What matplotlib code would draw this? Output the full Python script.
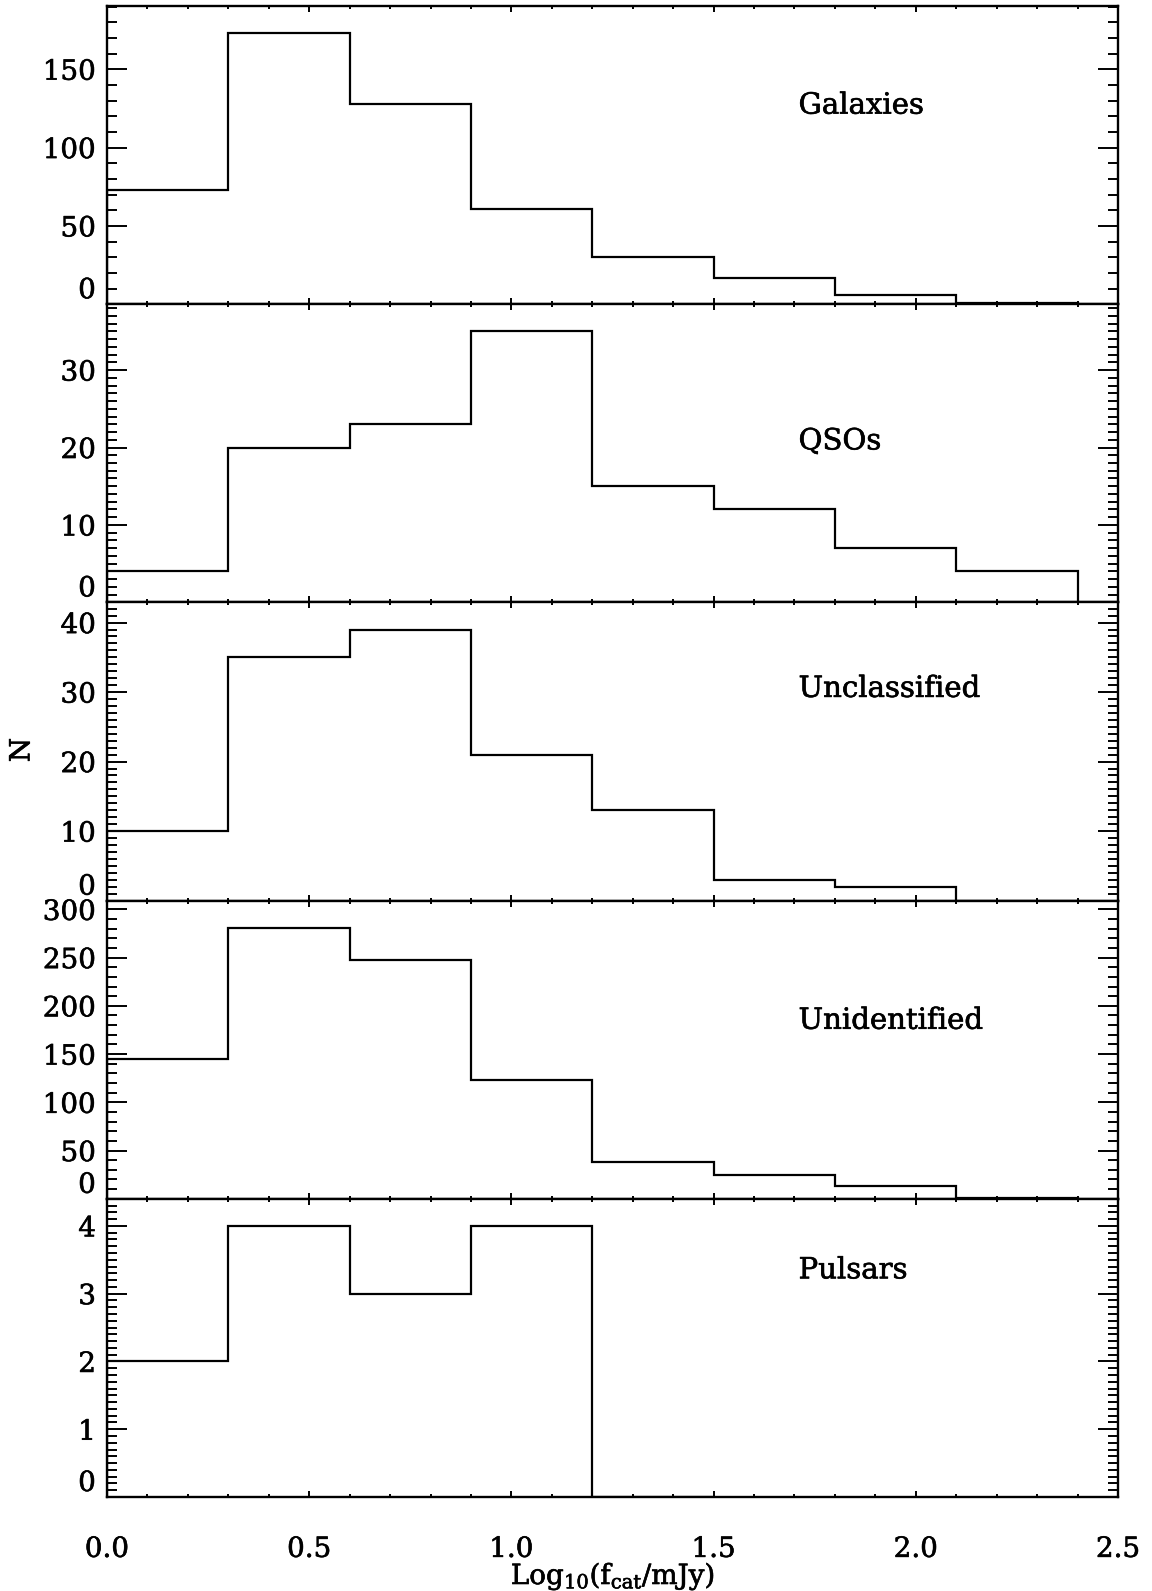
import numpy as np
import matplotlib
matplotlib.use('Agg')
import matplotlib.pyplot as plt
import matplotlib.patheffects as pe
from matplotlib.ticker import MultipleLocator

plt.rcParams['font.family'] = 'DejaVu Serif'
plt.rcParams['mathtext.fontset'] = 'dejavuserif'

# bin edges in log10(f_cat/mJy)
edges = [0.0, 0.3, 0.6, 0.9, 1.2, 1.5, 1.8, 2.1, 2.4]

galaxies = [73, 173, 128, 61, 30, 17, 6, 1]
qsos = [4, 20, 23, 35, 15, 12, 7, 4]
unclassified = [10, 35, 39, 21, 13, 3, 2, 0]
unidentified = [145, 281, 248, 123, 38, 25, 13, 1]
pulsars = [2, 4, 3, 4, 0]

names = ['Galaxies', 'QSOs', 'Unclassified', 'Unidentified', 'Pulsars']
counts = [galaxies, qsos, unclassified, unidentified, pulsars]
major = [50, 10, 10, 50, 1]
minor = [10, 1, 1, 10, 0.1]
label_y = [0.666, 0.54, 0.71, 0.597, 0.76]

thick = [pe.withStroke(linewidth=0.45, foreground='black')]

fig, axes = plt.subplots(5, 1, figsize=(11.52, 15.91), dpi=100, sharex=True)
fig.subplots_adjust(left=0.0929, right=0.9705, bottom=0.0591, top=0.9962, hspace=0)

for i, ax in enumerate(axes):
    c = counts[i]
    ax.stairs(c, edges[:len(c) + 1], baseline=0, color='black', lw=1.6)
    ax.set_xlim(0, 2.5)
    ax.set_ylim(0, max(c) * 1.1)
    ax.xaxis.set_major_locator(MultipleLocator(0.5))
    ax.xaxis.set_minor_locator(MultipleLocator(0.1))
    ax.yaxis.set_major_locator(MultipleLocator(major[i]))
    ax.yaxis.set_minor_locator(MultipleLocator(minor[i]))
    ax.tick_params(which='both', direction='in', top=True, right=True, width=1.4)
    ax.tick_params(axis='y', which='major', length=14.4, labelsize=20, pad=8)
    ax.tick_params(axis='y', which='minor', length=7.2)
    ax.tick_params(axis='x', which='major', length=4.5, labelsize=20, pad=28)
    ax.tick_params(axis='x', which='minor', length=2.2)
    for s in ax.spines.values():
        s.set_linewidth(1.7)
    ax.text(1.71, label_y[i], names[i], transform=ax.get_xaxis_transform(),
            fontsize=21, ha='left', va='center', path_effects=thick)
    # integer tick labels, zero label raised like the original
    ticks = np.arange(0, max(c) * 1.1 + 1e-9, major[i])
    ax.set_yticks(ticks)
    ax.set_yticklabels([('%g' % t) for t in ticks])
    ax.get_yticklabels()[0].set_va('bottom')
    for t in ax.get_yticklabels() + ax.get_xticklabels():
        t.set_path_effects(thick)

fig.text(0.532, 1 - 1576 / 1591, r'Log$_{10}$(f$_{\rm cat}$/mJy)', fontsize=20,
         ha='center', va='center', path_effects=thick)
fig.text(0.019, 1 - 750 / 1591, 'N', rotation=90, fontsize=20, ha='center', va='center',
         path_effects=thick)

plt.savefig('out.png', dpi=100)
